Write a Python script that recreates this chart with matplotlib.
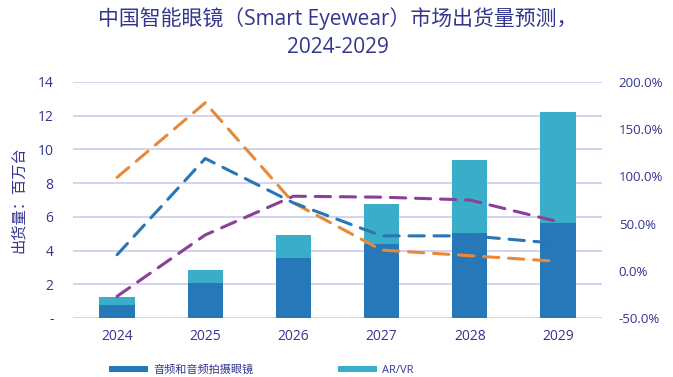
import matplotlib.pyplot as plt
import numpy as np

plt.rcParams['font.family'] = ['Open Sans', 'Noto Sans CJK SC', 'DejaVu Sans']

years = ["2024", "2025", "2026", "2027", "2028", "2029"]
audio_glasses = [0.75, 2.1, 3.55, 4.4, 5.05, 5.65]   # 音频和音频拍摄眼镜
ar_vr = [0.5, 0.75, 1.35, 2.35, 4.3, 6.55]           # AR/VR

# growth lines on the right axis (%)
growth_orange = [99, 178, 72, 22, 16, 10]
growth_blue = [17, 119, 72, 37, 37, 29]
growth_purple = [-27, 38, 79, 78, 75, 52]

left_ticks = [0, 2, 4, 6, 8, 10, 12, 14]
left_labels = ["-", "2", "4", "6", "8", "10", "12", "14"]
right_ticks = [-50, 0, 50, 100, 150, 200]

navy = "#33358F"
grid_c = "#C8C8EC"

fig = plt.figure(figsize=(6.73, 3.77), dpi=100)
ax = fig.add_axes([0.1085, 0.1565, 0.786, 0.626])
x = np.arange(len(years))

ax.bar(x, audio_glasses, width=0.4, color="#2678B8", label="音频和音频拍摄眼镜", zorder=2)
ax.bar(x, ar_vr, width=0.4, bottom=audio_glasses, color="#3AAEC8", label="AR/VR", zorder=2)

ax.set_xlim(-0.5, 5.5)
ax.set_ylim(0, 14)
ax.set_yticks(left_ticks)
ax.set_yticklabels(left_labels)
ax.set_xticks(x)
ax.set_xticklabels(years)
ax.tick_params(axis="both", length=0, colors=navy, labelsize=10)
ax.tick_params(axis="y", pad=14)
ax.tick_params(axis="x", pad=8)
ax.grid(axis="y", color=grid_c, linewidth=1.1, zorder=0)
for s in ax.spines.values():
    s.set_visible(False)
ax.set_ylabel("出货量：百万台", color=navy, fontsize=11, labelpad=8)

ax2 = ax.twinx()
ax2.set_ylim(-50, 200)
ax2.set_yticks(right_ticks)
ax2.set_yticklabels([f"{t:.1f}%" for t in right_ticks])
ax2.tick_params(axis="y", length=0, colors=navy, labelsize=9.5, pad=12)
for s in ax2.spines.values():
    s.set_visible(False)

dash = (5, 3.2)
ax2.plot(x, growth_orange, color="#E8893A", lw=2.2, dashes=dash, dash_capstyle="round")
ax2.plot(x, growth_blue, color="#2A75B3", lw=2.2, dashes=dash, dash_capstyle="round")
ax2.plot(x, growth_purple, color="#8B3F96", lw=2.2, dashes=dash, dash_capstyle="round")

fig.text(0.502, 0.952, "中国智能眼镜（Smart Eyewear）市场出货量预测，", ha="center", va="center",
         color=navy, fontsize=15)
fig.text(0.502, 0.873, "2024-2029", ha="center", va="center", color=navy, fontsize=15)

leg = ax.legend(loc="upper left", bbox_to_anchor=(0.05, -0.155), ncol=2, frameon=False,
                fontsize=8, handlelength=3.5, handleheight=0.45, handletextpad=0.45,
                columnspacing=7.6, labelcolor=navy)

fig.savefig("out.png", dpi=100)
